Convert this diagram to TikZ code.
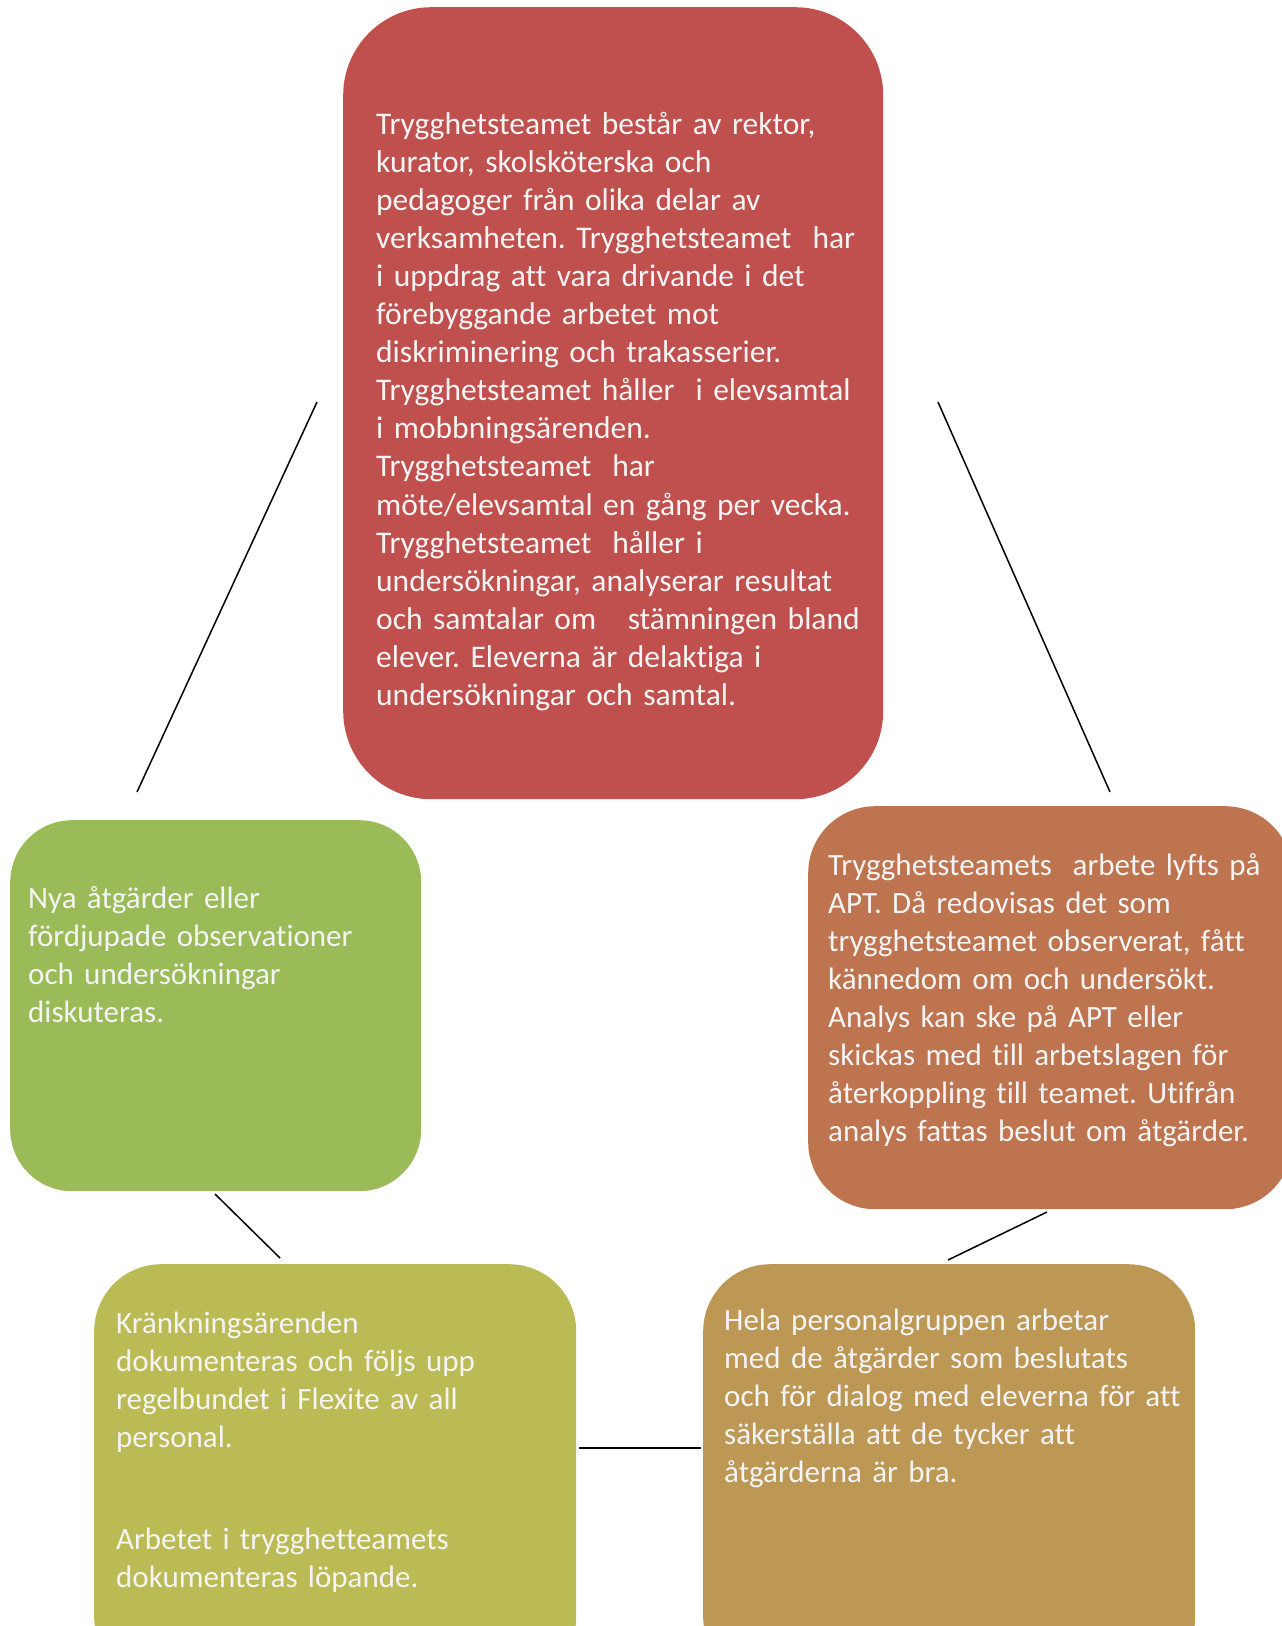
\documentclass[tikz,border=0pt]{standalone}
\usepackage{fontspec}
\setmainfont{Carlito}[Ligatures=NoCommon]
\definecolor{cred}{RGB}{192,80,77}
\definecolor{cgreen}{RGB}{155,187,89}
\definecolor{corange}{RGB}{189,116,79}
\definecolor{colive}{RGB}{187,187,85}
\definecolor{cgold}{RGB}{189,152,85}
\definecolor{ctext}{RGB}{244,244,244}
\frenchspacing
\begin{document}
\begin{tikzpicture}[x=1pt,y=-1pt,
  box/.style={draw=none, inner sep=0pt, anchor=north west, rounded corners=#1},
  txt/.style={inner sep=0pt, anchor=base west, align=left, text width=#1, text=ctext},
  big/.style={font=\fontsize{31.5}{38.1}\selectfont},
  small/.style={font=\fontsize{31}{38.1}\selectfont},
  link/.style={draw=black, line width=1.5pt}]
\useasboundingbox (0,0) rectangle (1282,1626);
% boxes
\node[box=88pt, fill=cred, minimum width=540pt, minimum height=792pt] (team) at (343,7) {};
\node[box=62pt, fill=cgreen, minimum width=411pt, minimum height=371pt] (nya) at (10,820) {};
\node[box=67pt, fill=corange, minimum width=484pt, minimum height=403pt] (apt) at (808,806) {};
\node[box=67pt, fill=colive, minimum width=482pt, minimum height=420pt] (krank) at (94,1264) {};
\node[box=67pt, fill=cgold, minimum width=492pt, minimum height=420pt] (hela) at (703,1264) {};
% texts
\node[txt=700pt, big] (teamtxt) at (376,134) {Trygghetsteamet består av rektor,\\
kurator, skolsköterska och\\
pedagoger från olika delar av\\
verksamheten. Trygghetsteamet\ \ har\\
i uppdrag att vara drivande i det\\
förebyggande arbetet mot\\
diskriminering och trakasserier.\\
Trygghetsteamet håller\ \ i elevsamtal\\
i mobbningsärenden.\\
Trygghetsteamet\ \ har\\
möte/elevsamtal en gång per vecka.\\
Trygghetsteamet\ \ håller i\\
undersökningar, analyserar resultat\\
och samtalar om\ \ \ stämningen bland\\
elever. Eleverna är delaktiga i\\
undersökningar och samtal.};
\node[txt=700pt, small] (apttxt) at (828,875) {Trygghetsteamets\ \ arbete lyfts på\\
APT. Då redovisas det som\\
trygghetsteamet observerat, fått\\
kännedom om och undersökt.\\
Analys kan ske på APT eller\\
skickas med till arbetslagen för\\
återkoppling till teamet. Utifrån\\
analys fattas beslut om åtgärder.};
\node[txt=700pt, small] (nyatxt) at (28,908) {Nya åtgärder eller\\
fördjupade observationer\\
och undersökningar\\
diskuteras.};
\node[txt=700pt, small] (kranktxt) at (116,1333) {Kränkningsärenden\\
dokumenteras och följs upp\\
regelbundet i Flexite av all\\
personal.\\[64pt]
Arbetet i trygghetteamets\\
dokumenteras löpande.};
\node[txt=700pt, small] (helatxt) at (724,1330) {Hela personalgruppen arbetar\\
med de åtgärder som beslutats\\
och för dialog med eleverna för att\\
säkerställa att de tycker att\\
åtgärderna är bra.};
% connector end points
\coordinate (l1a) at (317,402);
\coordinate (l1b) at (137,792);
\coordinate (r1a) at (938,402);
\coordinate (r1b) at (1110,792);
\coordinate (g1) at (215,1194);
\coordinate (o1) at (280,1258);
\coordinate (or1) at (1047,1212);
\coordinate (gd1) at (948,1260);
\coordinate (h1) at (579,1448);
\coordinate (h2) at (701,1448);
\draw[link] (l1a) -- (l1b);
\draw[link] (r1a) -- (r1b);
\draw[link] (g1) -- (o1);
\draw[link] (or1) -- (gd1);
\draw[link] (h1) -- (h2);
\end{tikzpicture}
\end{document}
